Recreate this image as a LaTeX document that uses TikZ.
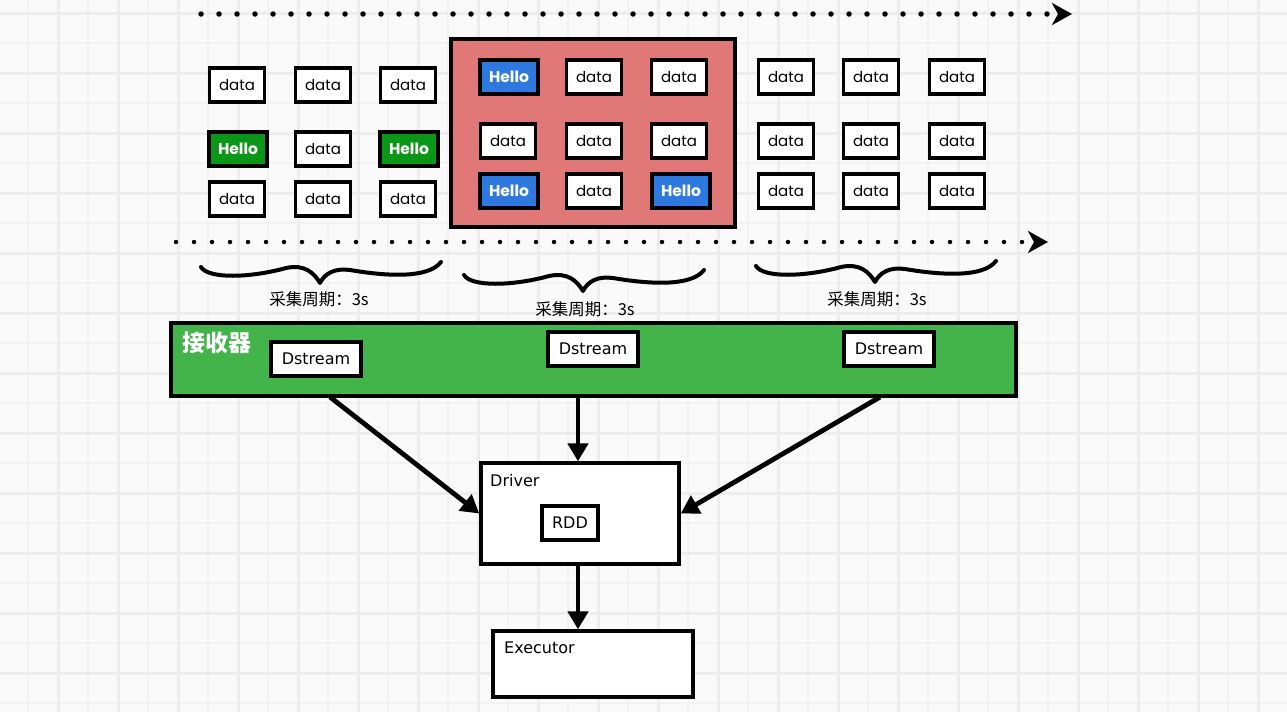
\documentclass[tikz,border=0pt]{standalone}
\usepackage{fontspec}
\usetikzlibrary{arrows.meta}
\newfontfamily\popfont{Poppins}
\newfontfamily\dvfont{DejaVu Sans}
\newfontfamily\cjkfont{Noto Sans CJK SC}
\definecolor{bgc}{RGB}{250,250,250}
\definecolor{gridmaj}{RGB}{237,237,237}
\definecolor{gridmin}{RGB}{242,242,242}
\definecolor{hblue}{RGB}{46,121,224}
\definecolor{hgreen}{RGB}{10,150,22}
\definecolor{redfill}{RGB}{224,120,120}
\definecolor{bandgreen}{RGB}{66,180,74}
\tikzset{
  databox/.style={draw=black, line width=3.4pt, fill=white, minimum width=55pt, minimum height=34pt, inner sep=0pt, font=\popfont\fontsize{15}{15}\selectfont},
  hellobox/.style={databox, font=\popfont\bfseries\fontsize{15.5}{15.5}\selectfont, text=white, minimum width=58pt},
  helloG/.style={hellobox, fill=hgreen},
  helloB/.style={hellobox, fill=hblue},
  dsbox/.style={draw=black, line width=3.4pt, fill=white, minimum width=90pt, minimum height=34pt, inner sep=0pt, font=\dvfont\fontsize{16}{16}\selectfont},
  bigbox/.style={draw=black, line width=3.4pt, fill=white, inner sep=0pt},
  boxlabel/.style={anchor=north west, inner sep=0pt, font=\dvfont\fontsize{16}{16}\selectfont},
  cjklabel/.style={inner sep=0pt, font=\cjkfont\fontsize{16.5}{16.5}\selectfont},
  arr/.style={line width=4.8pt, -{Triangle[length=18pt,width=20pt]}},
  dotline/.style={line width=5.5pt, line cap=round, dash pattern=on 0pt off 18pt, -{Stealth[length=20pt,width=22pt,inset=6pt]}},
  swoosh/.pic={\draw[line width=4pt, line cap=round, line join=round]
     (-119,-16) .. controls (-112,-4) and (-70,-5) .. (-34,-15)
     .. controls (-15,-19) and (-6,-10) .. (0,0)
     .. controls (5,-10) and (15,-15) .. (30,-13)
     .. controls (65,-7) and (108,-4) .. (121,-21);}
}
\begin{document}
\begin{tikzpicture}[x=1pt,y=-1pt]
% background and grid
\fill[bgc] (0,0) rectangle (1287,712);
\useasboundingbox (0,0) rectangle (1287,712);
\foreach \x in {28,88,...,1287} \draw[gridmin,line width=1.5pt] (\x,0) -- (\x,712);
\foreach \y in {43,103,...,712} \draw[gridmin,line width=1.5pt] (0,\y) -- (1287,\y);
\foreach \x in {58,118,...,1287} \draw[gridmaj,line width=3pt] (\x,0) -- (\x,712);
\foreach \y in {13,73,...,712} \draw[gridmaj,line width=3pt] (0,\y) -- (1287,\y);

% timelines
\coordinate (tl) at (201,14);
\coordinate (tr) at (1072,14);
\coordinate (bl) at (176,242);
\coordinate (br) at (1048,242);
\draw[dotline] (tl) -- (tr);
\draw[dotline, line width=4.5pt] (bl) -- (br);

% red window
\node[draw=black, line width=3.2pt, fill=redfill, minimum width=284pt, minimum height=188pt, inner sep=0pt] (win) at (593,133) {};

% left group
\node[databox] (l11) at (237,85) {data};
\node[databox] (l12) at (323,85) {data};
\node[databox] (l13) at (408,85) {data};
\node[helloG]  (l21) at (238,149) {Hello};
\node[databox] (l22) at (323,149) {data};
\node[helloG]  (l23) at (409,149) {Hello};
\node[databox] (l31) at (237,199) {data};
\node[databox] (l32) at (323,199) {data};
\node[databox] (l33) at (408,199) {data};

% middle group
\node[helloB]  (m11) at (509,77) {Hello};
\node[databox] (m12) at (594,77) {data};
\node[databox] (m13) at (679,77) {data};
\node[databox] (m21) at (508,141) {data};
\node[databox] (m22) at (594,141) {data};
\node[databox] (m23) at (679,141) {data};
\node[helloB]  (m31) at (509,191) {Hello};
\node[databox] (m32) at (594,191) {data};
\node[helloB]  (m33) at (681,191) {Hello};

% right group
\node[databox] (r11) at (786,77) {data};
\node[databox] (r12) at (871,77) {data};
\node[databox] (r13) at (957,77) {data};
\node[databox] (r21) at (786,141) {data};
\node[databox] (r22) at (871,141) {data};
\node[databox] (r23) at (957,141) {data};
\node[databox] (r31) at (786,191) {data};
\node[databox] (r32) at (871,191) {data};
\node[databox] (r33) at (957,191) {data};

% braces and labels
\pic at (320,283) {swoosh};
\pic at (583,291) {swoosh};
\pic at (875,282) {swoosh};
\node[cjklabel] (c1) at (319,299) {采集周期：3s};
\node[cjklabel] (c2) at (585,309) {采集周期：3s};
\node[cjklabel] (c3) at (877,299) {采集周期：3s};

% receiver band
\node[draw=black, line width=3.2pt, fill=bandgreen, minimum width=845pt, minimum height=73pt, inner sep=0pt] (band) at (593.5,359.5) {};
\node[anchor=north west, inner sep=0pt, text=white, font=\cjkfont\bfseries\fontsize{23}{23}\selectfont] (rcv) at (182,332) {接收器};
\node[dsbox] (d1) at (316,359) {Dstream};
\node[dsbox] (d2) at (593,349) {Dstream};
\node[dsbox] (d3) at (889,349) {Dstream};

% driver and executor
\node[bigbox, minimum width=198pt, minimum height=101pt] (drv) at (580,513.5) {};
\node[boxlabel] (drvl) at (490,474) {Driver};
\node[dsbox, minimum width=56pt] (rdd) at (570,523) {RDD};
\node[bigbox, minimum width=200pt, minimum height=66pt] (exe) at (593,664) {};
\node[boxlabel] (exel) at (504,642) {Executor};

% arrows
\coordinate (s1) at (330,397);
\coordinate (s2) at (578,397);
\coordinate (s3) at (880,397);
\draw[arr] (s1) -- (drv.west);
\draw[arr] (s2) -- (s2 |- drv.north);
\draw[arr] (s3) -- (drv.east);
\draw[arr] (s2 |- drv.south) -- (s2 |- exe.north);
\end{tikzpicture}
\end{document}
